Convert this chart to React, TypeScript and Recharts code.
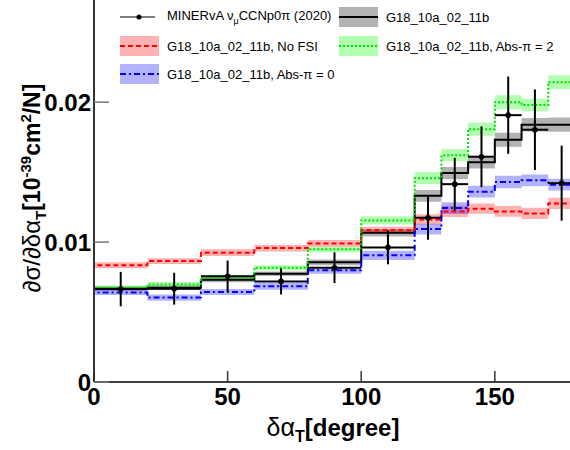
import React from 'react';
import { ComposedChart, Line, Area, Scatter, ErrorBar, XAxis, YAxis } from 'recharts';

const binEdges = [0, 20, 40, 60, 80, 100, 120, 130, 140, 150, 160, 170, 180];
const minervaData = [0.00664, 0.00667, 0.00755, 0.00719, 0.00817, 0.00962, 0.01174, 0.01414, 0.0161, 0.01907, 0.01803, 0.01421];
const minervaErr = [0.00123, 0.00114, 0.00113, 0.00093, 0.0011, 0.00121, 0.00157, 0.00188, 0.00217, 0.00276, 0.00288, 0.00268];
const g18 = [0.00667, 0.00674, 0.00731, 0.00774, 0.00855, 0.01067, 0.01331, 0.01493, 0.01571, 0.01731, 0.01839, 0.01839];
const g18Err = [0.00015, 0.00016, 0.00018, 0.00016, 0.0002, 0.00027, 0.00042, 0.00044, 0.00045, 0.0005, 0.00048, 0.00051];
const noFsi = [0.00834, 0.00864, 0.00924, 0.00957, 0.0099, 0.01084, 0.01162, 0.01219, 0.01239, 0.01219, 0.01205, 0.01276];
const noFsiErr = [0.00021, 0.0002, 0.00024, 0.00024, 0.00024, 0.00026, 0.00036, 0.0004, 0.00036, 0.00038, 0.0004, 0.0004];
const absPi2 = [0.00674, 0.00696, 0.00746, 0.00817, 0.00948, 0.01155, 0.01457, 0.01621, 0.01807, 0.02, 0.0198, 0.02143];
const absPi2Err = [0.00015, 0.00018, 0.0002, 0.00018, 0.0002, 0.00029, 0.00044, 0.00044, 0.00048, 0.0005, 0.00045, 0.0005];
const absPi0 = [0.00639, 0.00603, 0.00643, 0.00684, 0.00798, 0.00905, 0.01093, 0.01243, 0.0136, 0.01429, 0.01441, 0.0141];
const absPi0Err = [0.00018, 0.00023, 0.00021, 0.00024, 0.00024, 0.00033, 0.00038, 0.00042, 0.00042, 0.00045, 0.00042, 0.00042];
const xTicks = [0, 50, 100, 150];
const yTicks = [0, 0.01, 0.02];

const FONT = '"Liberation Sans", Arial, Helvetica, sans-serif';

const models = [
  { key: 'g18', vals: g18, errs: g18Err, color: '#000000', band: '#000000', dash: undefined as string | undefined, width: 2 },
  { key: 'noFsi', vals: noFsi, errs: noFsiErr, color: '#ff0000', band: '#ff0000', dash: '5 3', width: 2 },
  { key: 'absPi2', vals: absPi2, errs: absPi2Err, color: '#00dd00', band: '#00ff00', dash: '2 2', width: 2 },
  { key: 'absPi0', vals: absPi0, errs: absPi0Err, color: '#0000ff', band: '#0000ff', dash: '6 3 2 3', width: 2 },
];

function buildStepRows() {
  const rows: any[] = [];
  const first: any = { x: binEdges[0] };
  models.forEach((m) => {
    first[m.key] = 0;
    first[m.key + 'Band'] = [0, 0];
  });
  rows.push(first);
  for (let i = 0; i < binEdges.length; i++) {
    const idx = Math.min(i, binEdges.length - 2);
    const r: any = { x: binEdges[i] };
    models.forEach((m) => {
      r[m.key] = m.vals[idx];
      r[m.key + 'Band'] = [m.vals[idx] - m.errs[idx], m.vals[idx] + m.errs[idx]];
    });
    rows.push(r);
  }
  return rows;
}

const stepRows = buildStepRows();
const pointRows = minervaData.map((v, i) => ({
  x: (binEdges[i] + binEdges[i + 1]) / 2,
  y: v,
  yErr: minervaErr[i],
  xErr: (binEdges[i + 1] - binEdges[i]) / 2,
}));

const XTick = (props: any) => {
  const { x, y, payload } = props;
  return (
    <g>
      <line x1={x} y1={y - 11} x2={x} y2={y} stroke="#333" strokeWidth={1.5} />
      <text x={x} y={y + 23} textAnchor="middle" fontFamily={FONT} fontWeight="bold" fontSize={24} fill="#000">
        {payload.value}
      </text>
    </g>
  );
};

const YTick = (props: any) => {
  const { x, y, payload } = props;
  return (
    <g>
      <line x1={x} y1={y} x2={x + 15} y2={y} stroke="#777" strokeWidth={1.5} />
      <text x={x - 3} y={y + 9} textAnchor="end" fontFamily={FONT} fontWeight="bold" fontSize={24} fill="#000">
        {payload.value === 0 ? '0' : String(payload.value)}
      </text>
    </g>
  );
};

const YLabel = () => (
  <text transform="translate(40,188) rotate(-90)" textAnchor="middle" fontFamily={FONT} fill="#000">
    <tspan fontSize={24}>∂σ/∂δα</tspan>
    <tspan fontSize={15} fontWeight="bold" dy={6}>T</tspan>
    <tspan fontSize={23} fontWeight="bold" dy={-6}>[10</tspan>
    <tspan fontSize={15} fontWeight="bold" dy={-9}>-39</tspan>
    <tspan fontSize={23} fontWeight="bold" dy={9}>cm</tspan>
    <tspan fontSize={15} fontWeight="bold" dy={-9}>2</tspan>
    <tspan fontSize={23} fontWeight="bold" dy={9}>/N]</tspan>
  </text>
);

const XLabel = () => (
  <text x={333} y={436} textAnchor="middle" fontFamily={FONT} fill="#000">
    <tspan fontSize={25}>δα</tspan>
    <tspan fontSize={16} fontWeight="bold" dy={6}>T</tspan>
    <tspan fontSize={24} fontWeight="bold" dy={-6}>[degree]</tspan>
  </text>
);

const legendItems = [
  { kind: 'data', label: <>MINERvA ν<sub style={{ fontSize: 9 }}>μ</sub>CCNp0π (2020)</>, left: 120, top: 7 },
  { kind: 'g18', label: <>G18_10a_02_11b</>, left: 339, top: 7 },
  { kind: 'noFsi', label: <>G18_10a_02_11b, No FSI</>, left: 120, top: 36 },
  { kind: 'absPi2', label: <>G18_10a_02_11b, Abs-π = 2</>, left: 339, top: 36 },
  { kind: 'absPi0', label: <>G18_10a_02_11b, Abs-π = 0</>, left: 120, top: 64 },
];

const Swatch = ({ kind }: { kind: string }) => {
  if (kind === 'data') {
    return (
      <svg width={39} height={20} style={{ display: 'block' }}>
        <line x1={0} y1={10} x2={35} y2={10} stroke="#000" strokeWidth={1.2} />
        <circle cx={19} cy={10} r={2.5} fill="#000" />
      </svg>
    );
  }
  const m = models.find((mm) => mm.key === kind)!;
  return (
    <svg width={39} height={20} style={{ display: 'block' }}>
      <rect x={0} y={0} width={39} height={20} fill={m.band} fillOpacity={0.3} />
      <line x1={0} y1={10} x2={39} y2={10} stroke={m.color} strokeWidth={m.width} strokeDasharray={m.dash} />
    </svg>
  );
};

export default function App() {
  return (
    <div style={{ position: 'absolute', left: 0, top: 0, width: 570, height: 450, overflow: 'hidden', background: '#fff' }}>
      <ComposedChart width={580} height={450} data={stepRows} margin={{ top: 0, right: 5, bottom: 0, left: 0 }}>
        <XAxis
          dataKey="x"
          type="number"
          domain={[0, 180]}
          ticks={xTicks}
          allowDataOverflow
          height={68}
          tickSize={0}
          tickMargin={0}
          tickLine={false}
          tick={<XTick />}
          axisLine={{ stroke: '#000', strokeWidth: 1.5 }}
          label={<XLabel />}
        />
        <YAxis
          type="number"
          domain={[0, 0.0273]}
          ticks={yTicks}
          allowDataOverflow
          width={94}
          tickSize={0}
          tickMargin={0}
          tickLine={false}
          tick={<YTick />}
          axisLine={{ stroke: '#333', strokeWidth: 2 }}
          label={<YLabel />}
        />
        {models.map((m) => (
          <Area
            key={m.key + 'Band'}
            type="stepAfter"
            dataKey={m.key + 'Band'}
            stroke="none"
            fill={m.band}
            fillOpacity={0.3}
            isAnimationActive={false}
            activeDot={false}
          />
        ))}
        {models.map((m) => (
          <Line
            key={m.key}
            type="stepAfter"
            dataKey={m.key}
            stroke={m.color}
            strokeWidth={m.width}
            strokeDasharray={m.dash}
            dot={false}
            activeDot={false}
            isAnimationActive={false}
          />
        ))}
        <Scatter
          data={pointRows}
          dataKey="y"
          fill="#000"
          isAnimationActive={false}
          shape={(p: any) => <circle cx={p.cx} cy={p.cy} r={2.8} fill="#000" />}
        >
          <ErrorBar dataKey="yErr" direction="y" width={0} stroke="#000" strokeWidth={2} />
          <ErrorBar dataKey="xErr" direction="x" width={0} stroke="#000" strokeWidth={2} />
        </Scatter>
      </ComposedChart>
      {legendItems.map((it, i) => (
        <div
          key={i}
          style={{
            position: 'absolute',
            left: it.left,
            top: it.top,
            height: 20,
            display: 'flex',
            alignItems: 'center',
            fontFamily: FONT,
            fontSize: 13,
            color: '#000',
            whiteSpace: 'nowrap',
          }}
        >
          <Swatch kind={it.kind} />
          <span style={{ marginLeft: it.kind === 'data' ? 8 : 8 }}>{it.label}</span>
        </div>
      ))}
    </div>
  );
}
